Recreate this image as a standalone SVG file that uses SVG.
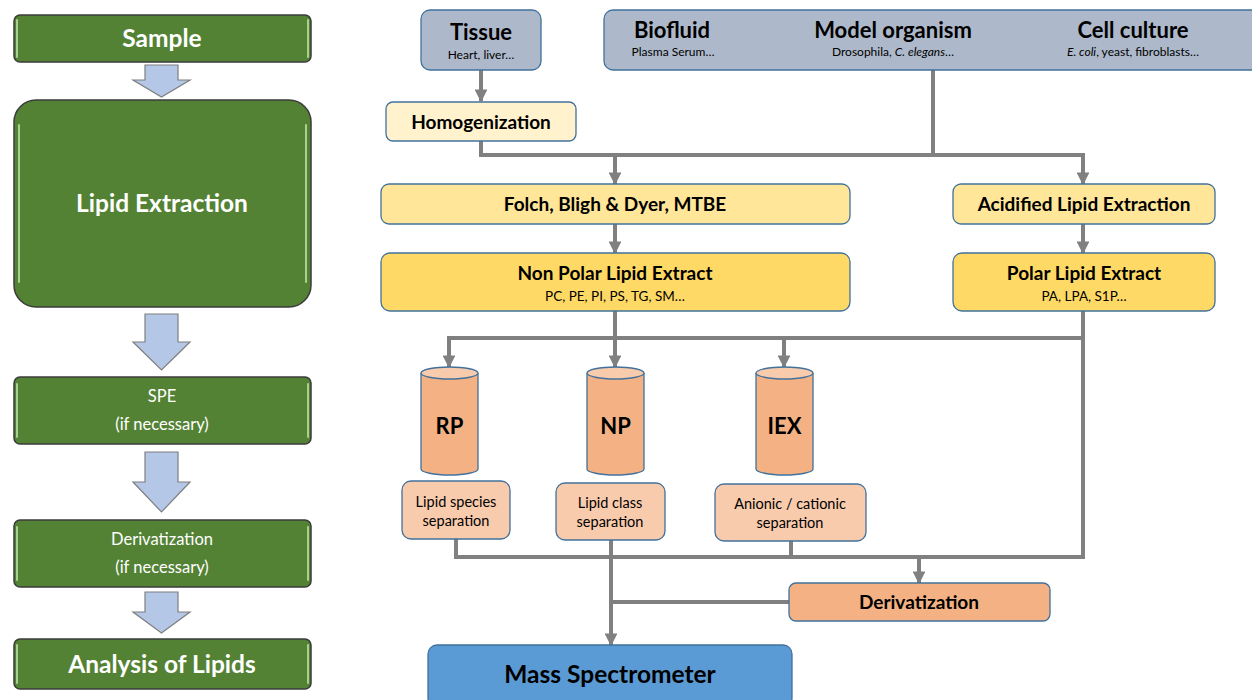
<svg xmlns="http://www.w3.org/2000/svg" width="1252" height="700" viewBox="0 0 1252 700">
<defs>
<style>
.g{fill:#548235;stroke:#3b3b3b;stroke-width:1.5}
.gh{stroke:#a9d18e;stroke-width:2;fill:none;stroke-linecap:round}
.ba{fill:#b4c7e7;stroke:#7f7f7f;stroke-width:1.2}
.wt{font-family:Lato,"Liberation Sans",sans-serif;fill:#fff;text-anchor:middle}
.t{font-family:Lato,"Liberation Sans",sans-serif;fill:#000;text-anchor:middle}
.b{font-weight:bold}
.src{fill:#adb9ca;stroke:#41719c;stroke-width:1.3}
.hom{fill:#fff2cc;stroke:#41719c;stroke-width:1.3}
.ext{fill:#ffe699;stroke:#41719c;stroke-width:1.3}
.lip{fill:#ffd966;stroke:#41719c;stroke-width:1.3}
.col{fill:#f4b183;stroke:#41719c;stroke-width:1.3}
.lab{fill:#f8cbad;stroke:#41719c;stroke-width:1.3}
.ms{fill:#5b9bd5;stroke:#41719c;stroke-width:1.3}
.c{fill:none;stroke:#808080;stroke-width:4}
</style>
<marker id="ah" viewBox="0 0 10 10" refX="9" refY="5" markerWidth="3.2" markerHeight="3.2" orient="auto" markerUnits="strokeWidth">
<path d="M0,0 L10,5 L0,10 z" fill="#808080"/>
</marker>
</defs>

<g id="left-sample">
<rect class="g" x="14" y="15" width="297" height="47" rx="6"/>
<line class="gh" x1="17" y1="20" x2="17" y2="57"/><line class="gh" x1="308" y1="20" x2="308" y2="57"/>
<text class="wt b" x="162" y="47" font-size="24.5">Sample</text>
</g>
<g id="left-arrow1"><path class="ba" d="M145,65 H178 V80 H190 L161.5,97 L133,80 H145 Z"/></g>
<g id="left-extraction">
<rect class="g" x="14" y="100" width="297" height="207" rx="22"/>
<line class="gh" x1="19" y1="125" x2="19" y2="282"/><line class="gh" x1="306" y1="125" x2="306" y2="282"/>
<text class="wt b" x="162" y="212" font-size="24.5">Lipid Extraction</text>
</g>
<g id="left-arrow2"><path class="ba" d="M145,314 H178 V342 H190 L161.5,370 L133,342 H145 Z"/></g>
<g id="left-spe">
<rect class="g" x="14" y="377" width="297" height="67" rx="6"/>
<line class="gh" x1="17" y1="384" x2="17" y2="437"/><line class="gh" x1="308" y1="384" x2="308" y2="437"/>
<text class="wt" x="162" y="402" font-size="16.5">SPE</text>
<text class="wt" x="162" y="430" font-size="16.5">(if necessary)</text>
</g>
<g id="left-arrow3"><path class="ba" d="M145,452 H178 V482 H190 L161.5,512 L133,482 H145 Z"/></g>
<g id="left-deriv">
<rect class="g" x="14" y="520" width="297" height="67" rx="6"/>
<line class="gh" x1="17" y1="527" x2="17" y2="580"/><line class="gh" x1="308" y1="527" x2="308" y2="580"/>
<text class="wt" x="162" y="545" font-size="16.5">Derivatization</text>
<text class="wt" x="162" y="573" font-size="16.5">(if necessary)</text>
</g>
<g id="left-arrow4"><path class="ba" d="M145,592 H178 V612 H190 L161.5,633 L133,612 H145 Z"/></g>
<g id="left-analysis">
<rect class="g" x="14" y="639" width="297" height="50" rx="6"/>
<line class="gh" x1="17" y1="645" x2="17" y2="683"/><line class="gh" x1="308" y1="645" x2="308" y2="683"/>
<text class="wt b" x="162" y="673" font-size="24.5">Analysis of Lipids</text>
</g>

<g id="connectors">
<line class="c" x1="481" y1="70" x2="481" y2="101" marker-end="url(#ah)"/>
<polyline class="c" points="481,141 481,155 1083,155"/>
<line class="c" x1="933" y1="70" x2="933" y2="155"/>
<line class="c" x1="615" y1="155" x2="615" y2="184" marker-end="url(#ah)"/>
<line class="c" x1="1083" y1="153" x2="1083" y2="184" marker-end="url(#ah)"/>
<line class="c" x1="615" y1="224" x2="615" y2="253" marker-end="url(#ah)"/>
<line class="c" x1="1083" y1="224" x2="1083" y2="253" marker-end="url(#ah)"/>
<line class="c" x1="615" y1="311" x2="615" y2="367" marker-end="url(#ah)"/>
<polyline class="c" points="449,367 449,338 1083,338"/>
<line class="c" x1="449" y1="340" x2="449" y2="367" marker-end="url(#ah)"/>
<line class="c" x1="784" y1="338" x2="784" y2="367" marker-end="url(#ah)"/>
<polyline class="c" points="1083,311 1083,557 456,557 456,539"/>
<line class="c" x1="791" y1="541" x2="791" y2="557"/>
<line class="c" x1="611" y1="540" x2="611" y2="645" marker-end="url(#ah)"/>
<line class="c" x1="919" y1="557" x2="919" y2="583" marker-end="url(#ah)"/>
<line class="c" x1="789" y1="602" x2="611" y2="602"/>
</g>

<g id="tissue">
<rect class="src" x="421" y="10" width="120" height="60" rx="9"/>
<text class="t b" x="481" y="40" font-size="22">Tissue</text>
<text class="t" x="481" y="59" font-size="12">Heart, liver…</text>
</g>
<g id="sources">
<rect class="src" x="604" y="10" width="660" height="60" rx="9"/>
<text class="t b" x="672" y="38" font-size="22">Biofluid</text>
<text class="t" x="673" y="56" font-size="12">Plasma Serum…</text>
<text class="t b" x="893" y="38" font-size="22">Model organism</text>
<text class="t" x="893" y="56" font-size="12">Drosophila, <tspan font-style="italic">C. elegans</tspan>…</text>
<text class="t b" x="1133" y="38" font-size="22">Cell culture</text>
<text class="t" x="1133" y="56" font-size="12"><tspan font-style="italic">E. coli</tspan>, yeast, fibroblasts…</text>
</g>
<g id="homogenization">
<rect class="hom" x="386" y="102" width="190" height="39" rx="7"/>
<text class="t b" x="481" y="129" font-size="19">Homogenization</text>
</g>
<g id="folch">
<rect class="ext" x="381" y="184" width="469" height="40" rx="8"/>
<text class="t b" x="615" y="211" font-size="19">Folch, Bligh &amp; Dyer, MTBE</text>
</g>
<g id="acidified">
<rect class="ext" x="953" y="184" width="262" height="40" rx="8"/>
<text class="t b" x="1084" y="211" font-size="19">Acidified Lipid Extraction</text>
</g>
<g id="nonpolar">
<rect class="lip" x="381" y="253" width="469" height="58" rx="9"/>
<text class="t b" x="615" y="280" font-size="19">Non Polar Lipid Extract</text>
<text class="t" x="615" y="301" font-size="13.5">PC, PE, PI, PS, TG, SM…</text>
</g>
<g id="polar">
<rect class="lip" x="953" y="253" width="262" height="58" rx="9"/>
<text class="t b" x="1084" y="280" font-size="19">Polar Lipid Extract</text>
<text class="t" x="1084" y="301" font-size="13.5">PA, LPA, S1P…</text>
</g>
<g id="rp">
<path class="col" d="M421,373 V469 A28.5,6 0 0 0 478,469 V373"/>
<ellipse cx="449.5" cy="373" rx="28.5" ry="6" fill="#f8cbad" stroke="#41719c" stroke-width="1.3"/>
<text class="t b" x="449.5" y="434" font-size="22">RP</text>
</g>
<g id="np">
<path class="col" d="M587,373 V469 A28.5,6 0 0 0 644,469 V373"/>
<ellipse cx="615.5" cy="373" rx="28.5" ry="6" fill="#f8cbad" stroke="#41719c" stroke-width="1.3"/>
<text class="t b" x="615.5" y="434" font-size="22">NP</text>
</g>
<g id="iex">
<path class="col" d="M756,373 V469 A28.5,6 0 0 0 813,469 V373"/>
<ellipse cx="784.5" cy="373" rx="28.5" ry="6" fill="#f8cbad" stroke="#41719c" stroke-width="1.3"/>
<text class="t b" x="784.5" y="434" font-size="22">IEX</text>
</g>
<g id="rp-label">
<rect class="lab" x="402" y="481" width="108" height="58" rx="9"/>
<text class="t" x="456" y="507" font-size="14.5">Lipid species</text>
<text class="t" x="456" y="526" font-size="14.5">separation</text>
</g>
<g id="np-label">
<rect class="lab" x="556" y="483" width="109" height="57" rx="9"/>
<text class="t" x="610" y="508" font-size="14.5">Lipid class</text>
<text class="t" x="610" y="527" font-size="14.5">separation</text>
</g>
<g id="iex-label">
<rect class="lab" x="715" y="484" width="151" height="57" rx="9"/>
<text class="t" x="790" y="509" font-size="14.5">Anionic / cationic</text>
<text class="t" x="790" y="528" font-size="14.5">separation</text>
</g>
<g id="derivatization">
<rect class="col" x="789" y="583" width="261" height="38" rx="7"/>
<text class="t b" x="919" y="609" font-size="19">Derivatization</text>
</g>
<g id="mass-spec">
<rect class="ms" x="428" y="645" width="364" height="62" rx="9"/>
<text class="t b" x="610" y="683" font-size="24.5">Mass Spectrometer</text>
</g>
</svg>
